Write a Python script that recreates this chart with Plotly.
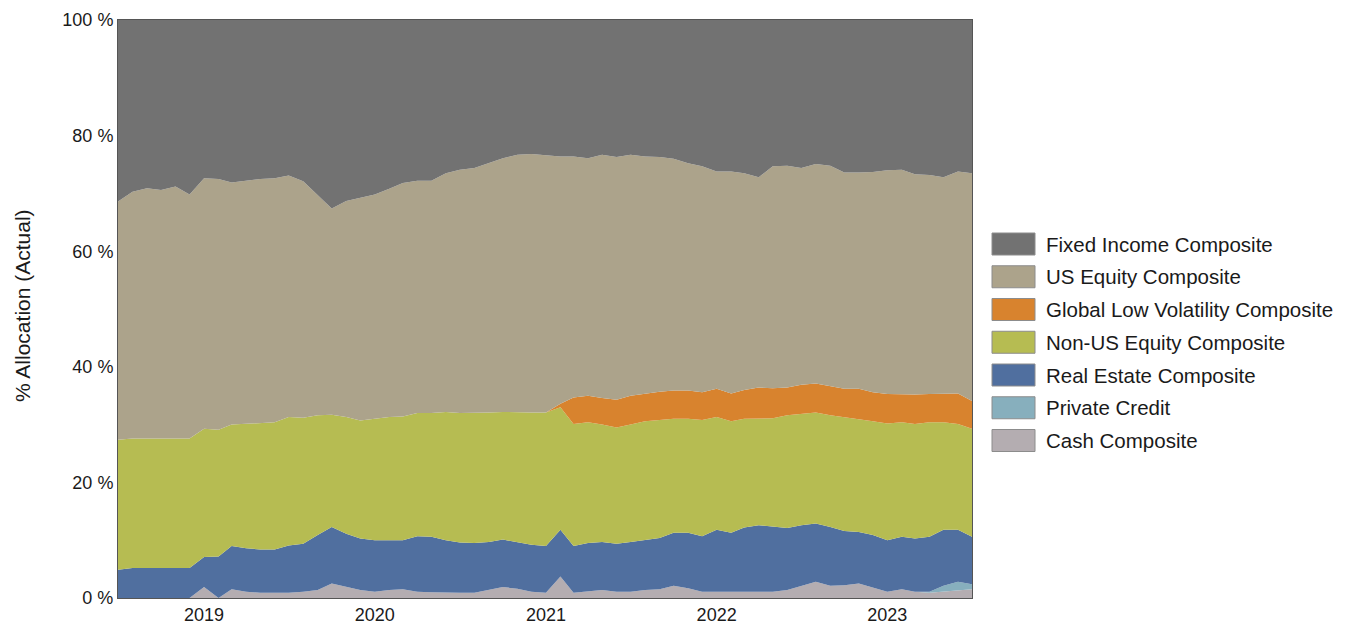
import pandas as pd
import plotly.graph_objects as go

dates = pd.date_range("2018-07-01", periods=61, freq="MS")

cash = [0, 0, 0, 0, 0, 0, 1.9, 0, 1.5, 1.1, 0.9, 0.9, 0.9, 1.1, 1.4,
        2.5, 1.9, 1.4, 1.1, 1.4, 1.5, 1.1, 1.0, 0.9, 0.9, 0.9, 1.4, 1.9, 1.6, 1.1,
        0.9, 3.7, 0.9, 1.2, 1.4, 1.1, 1.1, 1.4, 1.5, 2.1, 1.7, 1.1, 1.1, 1.1, 1.1,
        1.1, 1.1, 1.4, 2.1, 2.8, 2.1, 2.2, 2.5, 1.8, 1.1, 1.5, 1.1, 0.9, 1.1, 1.4, 1.5]

private_credit = [0] * 57 + [0.2, 1.0, 1.4, 0.9]

real_estate = [4.9, 5.2, 5.2, 5.2, 5.1, 5.2, 5.2, 7.2, 7.5, 7.5, 7.5, 7.5, 8.2, 8.3, 9.5,
               9.8, 9.2, 8.9, 8.9, 8.6, 8.5, 9.6, 9.6, 9.1, 8.7, 8.6, 8.3, 8.2, 8.1, 8.1,
               8.1, 8.1, 8.1, 8.3, 8.3, 8.3, 8.6, 8.6, 8.9, 9.2, 9.6, 9.6, 10.7, 10.2, 11.1,
               11.5, 11.2, 10.7, 10.5, 10.1, 10.2, 9.4, 8.9, 9.1, 8.9, 9.1, 9.2, 9.5, 9.7, 9.0, 8.2]

non_us_equity = [22.5, 22.4, 22.4, 22.4, 22.4, 22.4, 22.2, 21.9, 21.0, 21.5, 21.8, 22.0, 22.2, 21.8, 20.7,
                 19.4, 20.2, 20.4, 21.0, 21.3, 21.4, 21.3, 21.4, 22.2, 22.4, 22.5, 22.4, 22.1, 22.4, 22.9,
                 23.1, 21.2, 21.1, 20.9, 20.3, 20.1, 20.3, 20.6, 20.4, 19.7, 19.7, 20.1, 19.5, 19.3, 18.8,
                 18.4, 18.8, 19.5, 19.2, 19.2, 19.3, 19.7, 19.6, 19.7, 20.2, 19.8, 19.8, 19.8, 18.6, 18.3, 18.7]

global_low_vol = [0] * 31 + [0.6, 4.6, 4.6, 4.6, 4.8, 5.0, 4.8, 4.9, 4.9, 4.9, 4.8, 4.9, 4.8, 5.0,
                             5.4, 5.2, 4.8, 5.1, 5.0, 5.1, 4.9, 5.2, 5.0, 5.1, 4.8, 5.1, 4.9, 5.0, 5.3, 4.8]

us_equity = [41.2, 42.7, 43.3, 43.0, 43.7, 42.2, 43.3, 43.4, 41.9, 42.1, 42.3, 42.2, 41.8, 40.9, 38.2,
             35.7, 37.4, 38.5, 38.8, 39.5, 40.4, 40.2, 40.2, 41.3, 42.1, 42.4, 43.1, 43.9, 44.6, 44.7,
             44.5, 42.8, 41.7, 41.1, 42.1, 42.0, 41.7, 41.0, 40.6, 40.1, 39.3, 39.1, 37.6, 38.4, 37.5,
             36.4, 38.4, 38.4, 37.5, 38.0, 38.1, 37.4, 37.4, 38.1, 38.7, 38.9, 38.1, 37.9, 37.4, 38.4, 39.4]

fixed_income = [31.4, 29.7, 29.1, 29.4, 28.8, 30.2, 27.4, 27.5, 28.1, 27.8, 27.5, 27.4, 26.9, 27.9, 30.2,
                32.6, 31.3, 30.8, 30.2, 29.2, 28.2, 27.8, 27.8, 26.5, 25.9, 25.6, 24.8, 23.9, 23.3, 23.2,
                23.4, 23.6, 23.6, 23.9, 23.3, 23.7, 23.3, 23.6, 23.7, 24.0, 24.8, 25.3, 26.2, 26.2, 26.5,
                27.2, 25.3, 25.2, 25.6, 24.9, 25.2, 26.4, 26.4, 26.3, 26.0, 25.9, 26.7, 26.8, 27.2, 26.2, 26.5]

y_tick_vals = [0, 20, 40, 60, 80, 100]
y_tick_text = ["0 %", "20 %", "40 %", "60 %", "80 %", "100 %"]

series = [
    ("Cash Composite", cash, "#b4adb1"),
    ("Private Credit", private_credit, "#87afbd"),
    ("Real Estate Composite", real_estate, "#506f9f"),
    ("Non-US Equity Composite", non_us_equity, "#b6bc52"),
    ("Global Low Volatility Composite", global_low_vol, "#d8832e"),
    ("US Equity Composite", us_equity, "#aca38b"),
    ("Fixed Income Composite", fixed_income, "#727272"),
]
colors = {n: c for n, _, c in series}

legend_order = ["Fixed Income Composite", "US Equity Composite", "Global Low Volatility Composite",
                "Non-US Equity Composite", "Real Estate Composite", "Private Credit", "Cash Composite"]

FONT = "Liberation Sans, Arial, sans-serif"
TXT = "#1a1a1a"

fig = go.Figure()
for name, vals, col in series:
    fig.add_trace(go.Scatter(
        x=dates, y=vals, name=name, mode="lines", stackgroup="one",
        line=dict(width=0, color=col), fillcolor=col, showlegend=False,
    ))

# page-pixel geometry of the plot area (page has an 8px body margin)
OFF = 8
plot_l, plot_r, plot_t, plot_b = 118, 972, 20, 598
pw, ph = plot_r - plot_l, plot_b - plot_t
W, H = 1341, 618


def px_x(x):
    return (x - plot_l) / pw


def px_y(y):
    return (plot_b - y) / ph


shapes, annotations = [], []
for k, name in enumerate(legend_order):
    cy = 244 + k * 32.75
    shapes.append(dict(type="rect", xref="paper", yref="paper",
                       x0=px_x(992), x1=px_x(1035), y0=px_y(cy + 11), y1=px_y(cy - 11),
                       fillcolor=colors[name], line=dict(color="#8c8c8c", width=1)))
    annotations.append(dict(xref="paper", yref="paper", x=px_x(1044), y=px_y(cy),
                            text=name, showarrow=False, xanchor="left", yanchor="middle",
                            font=dict(family=FONT, size=20.5, color=TXT)))

# y-axis title
annotations.append(dict(xref="paper", yref="paper", x=px_x(22), y=px_y(306),
                        text="% Allocation (Actual)", showarrow=False, textangle=-90,
                        xanchor="center", yanchor="middle",
                        font=dict(family=FONT, size=21, color=TXT)))

fig.update_layout(
    width=W, height=H,
    margin=dict(l=plot_l - OFF, r=W - (plot_r - OFF), t=plot_t - OFF, b=H - (plot_b - OFF)),
    paper_bgcolor="white", plot_bgcolor="white",
    font=dict(family=FONT, size=18, color=TXT),
    shapes=shapes, annotations=annotations,
    showlegend=False,
)
fig.update_xaxes(
    range=[dates[0], dates[-1]], tickformat="%Y", dtick="M12", tick0="2019-01-01",
    showgrid=False, zeroline=False, showline=True, mirror=True, linecolor="#555", linewidth=1,
    ticks="", automargin=False, tickfont=dict(family=FONT, size=18, color=TXT),
)
fig.update_yaxes(
    range=[0, 100], tickvals=y_tick_vals, ticktext=y_tick_text,
    showgrid=False, zeroline=False, showline=True, mirror=True, linecolor="#555", linewidth=1,
    ticks="", automargin=False, tickfont=dict(family=FONT, size=18, color=TXT),
)

fig.write_html("out.html")
